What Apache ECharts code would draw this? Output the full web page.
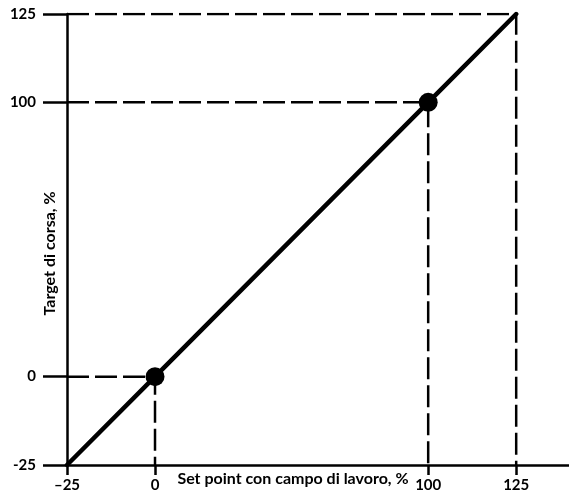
<!DOCTYPE html>
<html>
<head>
<meta charset="utf-8">
<script src="https://cdn.jsdelivr.net/npm/echarts@6/dist/echarts.min.js"></script>
<style>
html,body{margin:0;padding:0;background:#fff;}
#chart{width:569px;height:492px;}
</style>
</head>
<body>
<div id="chart"></div>
<script>
// ---- data ----
const lineX = [-25, 0, 100, 125];
const lineY = [-25, 0, 100, 125];
const dotX = [0, 100];
const dotY = [0, 100];
const guideLevels = [0, 100, 125];
const tickValues = [-25, 0, 100, 125];
const xTickLabels = ['\u201325', '0', '100', '125'];
const yTickLabels = ['-25', '0', '100', '125'];
const xTitle = 'Set point con campo di lavoro, %';
const yTitle = 'Target di corsa, %';

const FONT = 'Lato';
const chart = echarts.init(document.getElementById('chart'), null, {renderer: 'canvas'});

const guideSeries = guideLevels.map(g => ({
  type: 'line',
  data: [[lineX[0], g], [g, g], [g, lineY[0]]],
  symbol: 'none',
  silent: true,
  lineStyle: {color: '#000', width: 2.5, type: [22, 6]},
  z: 1
}));

const option = {
  animation: false,
  grid: {left: 67, right: 0, top: 14, bottom: 27, outerBoundsMode: 'none', containLabel: false},
  xAxis: {
    type: 'value', min: -25, max: 140, interval: 25,
    breaks: [{start: 40, end: 62.4, gap: 0}],
    breakArea: {show: false},
    axisLine: {show: true, onZero: false, breakLine: false, lineStyle: {color: '#000', width: 2.5}},
    axisTick: {show: true, customValues: tickValues, length: 10, lineStyle: {color: '#000', width: 2.5}},
    axisLabel: {
      customValues: tickValues, margin: 13,
      formatter: v => xTickLabels[tickValues.indexOf(v)] ?? '',
      color: '#000', fontFamily: FONT, fontWeight: 'bold', fontSize: 15
    },
    splitLine: {show: false},
    name: xTitle, nameLocation: 'middle', nameGap: 6, nameMoveOverlap: false,
    nameTextStyle: {color: '#000', fontFamily: FONT, fontWeight: 'bold', fontSize: 16, padding: [0, 50, 0, 0], verticalAlign: 'top'}
  },
  yAxis: {
    type: 'value', min: -25, max: 125, interval: 25,
    breaks: [{start: 40, end: 62.4, gap: 0}],
    breakArea: {show: false},
    axisLine: {show: true, onZero: false, breakLine: false, lineStyle: {color: '#000', width: 2.5}},
    axisTick: {show: true, customValues: tickValues, length: 24, lineStyle: {color: '#000', width: 2.5}},
    axisLabel: {
      customValues: tickValues, margin: 31,
      formatter: v => yTickLabels[tickValues.indexOf(v)] ?? '',
      color: '#000', fontFamily: FONT, fontWeight: 'bold', fontSize: 15
    },
    splitLine: {show: false},
    name: yTitle, nameLocation: 'middle', nameGap: 9, nameRotate: 90, nameMoveOverlap: false,
    nameTextStyle: {color: '#000', fontFamily: FONT, fontWeight: 'bold', fontSize: 16, padding: [0, 28, 0, 0]}
  },
  series: [
    ...guideSeries,
    {
      type: 'line',
      data: lineX.map((x, i) => [x, lineY[i]]),
      symbol: 'none', silent: true,
      lineStyle: {color: '#000', width: 4.5, cap: 'round'},
      z: 3
    },
    {
      type: 'scatter',
      data: dotX.map((x, i) => [x, dotY[i]]),
      symbol: 'circle', symbolSize: 19, silent: true,
      itemStyle: {color: '#000', opacity: 1},
      z: 4
    }
  ]
};
chart.setOption(option);
</script>
</body>
</html>
